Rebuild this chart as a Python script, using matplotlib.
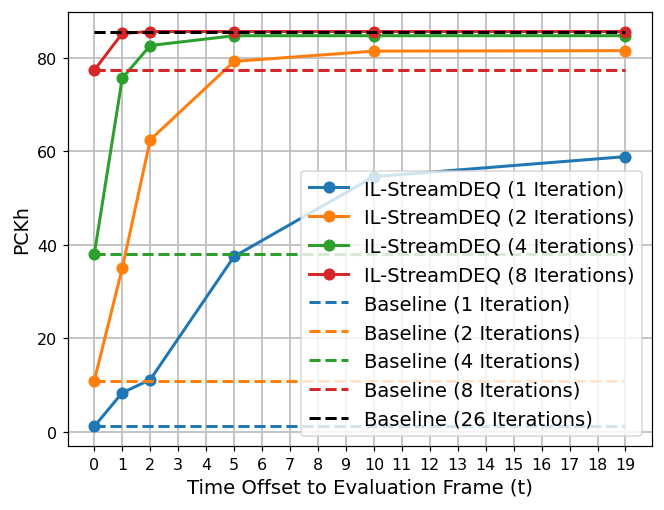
import numpy as np
import matplotlib
matplotlib.use("Agg")
import matplotlib.pyplot as plt

# Time offsets evaluated
offsets = [0, 1, 2, 5, 10, 19]

# PCKh per number of iterations
pckh_1 = [1.1, 8.3, 11.1, 37.5, 54.6, 58.9]
pckh_2 = [10.9, 35.0, 62.5, 79.3, 81.5, 81.6]
pckh_4 = [38.0, 75.7, 82.7, 84.8, 84.8, 84.8]
pckh_8 = [77.4, 85.3, 85.7, 85.7, 85.7, 85.7]

# baselines
base_1 = 1.1
base_2 = 10.9
base_4 = 38.0
base_8 = 77.4
base_26 = 85.7

DPI = 108.6
fig, ax = plt.subplots(figsize=(664 / DPI, 511 / DPI), dpi=DPI)

kw = dict(linewidth=2, markersize=7)
ax.plot(offsets, pckh_1, "o-", color="C0", label="IL-StreamDEQ (1 Iteration)", **kw)
ax.plot(offsets, pckh_2, "o-", color="C1", label="IL-StreamDEQ (2 Iterations)", **kw)
ax.plot(offsets, pckh_4, "o-", color="C2", label="IL-StreamDEQ (4 Iterations)", **kw)
ax.plot(offsets, pckh_8, "o-", color="C3", label="IL-StreamDEQ (8 Iterations)", **kw)

xs = [offsets[0], offsets[-1]]
ax.plot(xs, [base_1] * 2, "--", color="C0", linewidth=2, label="Baseline (1 Iteration)")
ax.plot(xs, [base_2] * 2, "--", color="C1", linewidth=2, label="Baseline (2 Iterations)")
ax.plot(xs, [base_4] * 2, "--", color="C2", linewidth=2, label="Baseline (4 Iterations)")
ax.plot(xs, [base_8] * 2, "--", color="C3", linewidth=2, label="Baseline (8 Iterations)")
ax.plot(xs, [base_26] * 2, "--", color="black", linewidth=2, label="Baseline (26 Iterations)")

ax.set_xticks(np.arange(0, 20))
ax.tick_params(labelsize=10.5)
ax.set_xlabel("Time Offset to Evaluation Frame (t)", fontsize=13)
ax.set_ylabel("PCKh", fontsize=12.5)
ax.grid(True, linewidth=1.2, color="#c0c0c0")
ax.legend(fontsize=13, loc="lower right")

fig.subplots_adjust(left=0.102, right=0.982, top=0.975, bottom=0.125)
fig.savefig("out.png")
